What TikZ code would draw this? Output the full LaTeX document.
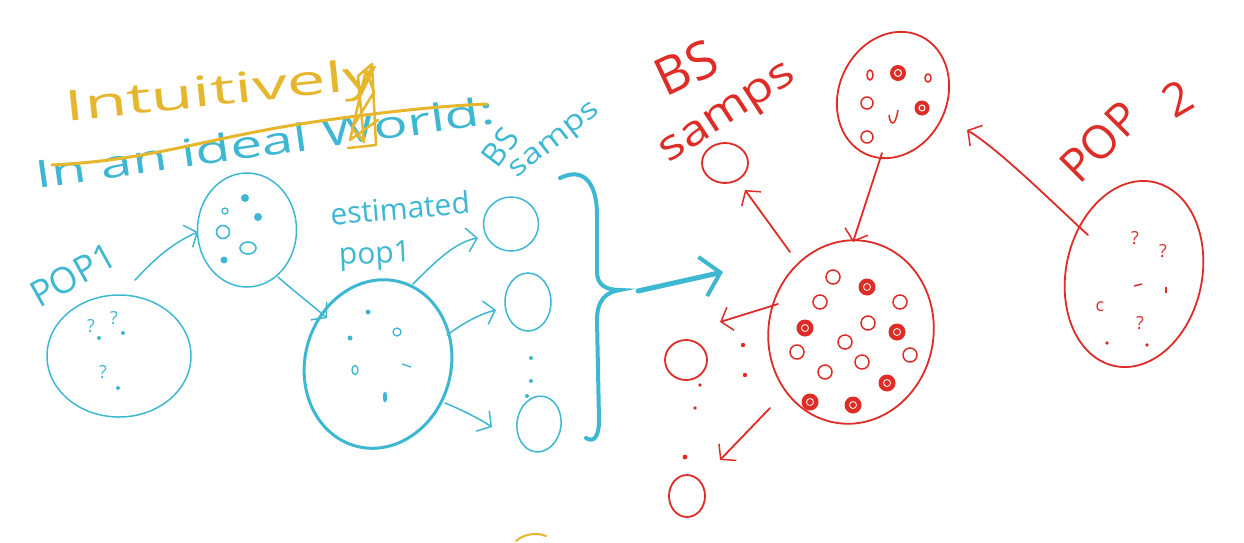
\documentclass[tikz,border=0pt]{standalone}
\usepackage{fontspec}
\usepackage{graphicx}
\setmainfont{Open Sans}
\usetikzlibrary{shapes.geometric,arrows.meta,calc}
\definecolor{hblue}{RGB}{62,184,210}
\definecolor{hred}{RGB}{222,44,38}
\definecolor{hyel}{RGB}{230,182,44}
\begin{document}
\begin{tikzpicture}[x=1pt,y=-1pt,
  blob/.style={draw,ellipse,inner sep=0pt,outer sep=0pt},
  bl/.style={draw=hblue,line width=1.5pt},
  rd/.style={draw=hred,line width=1.8pt},
  harr/.style={-{Straight Barb[length=10pt,width=24pt,line width=1.5pt]},line cap=round,line join=round},
  hand/.style={inner sep=0pt,font=\fontsize{#1}{#1}\selectfont},
  hand/.default=26,
  qm/.style={inner sep=0pt,font=\fontsize{18}{18}\selectfont},
]
\useasboundingbox[fill=white] (0,0) rectangle (1244,542);

% ---------------- blue part ----------------
\node[hand=38,text=hblue,rotate=8] (ideal) at (265,142) {\scalebox{1.5}[1]{In an ideal World:}};
\node[hand=42,text=hyel,rotate=6] (intu) at (222,94) {\scalebox{1.65}[1]{Intuitively}};
\draw[hyel,line width=3pt,line cap=round] (52,165) .. controls (150,160) and (200,140) .. (300,124) .. controls (380,112) and (440,106) .. (487,104);
\draw[hyel,line width=2.5pt,line join=round,line cap=round] (348,148) -- (376,145) -- (372,64) -- (358,76) -- (364,142) -- (352,128) -- (374,92) -- (366,70) -- (350,140) -- (378,120);

\node[hand=32,text=hblue,rotate=53] (bsa) at (500,147) {BS};
\node[hand=28,text=hblue,rotate=38] (bsb) at (556,142) {\scalebox{1.25}[1]{samps}};
\node[hand=36,text=hblue,rotate=29] (lp1) at (73,275) {POP1};
\node[hand=30,text=hblue,rotate=5] (lest1) at (400,208) {estimated};
\node[hand=30,text=hblue,rotate=3] (lest2) at (375,256) {pop1};

\node[blob,bl,minimum width=144,minimum height=122] (pop1) at (119,356) {};
\node[qm,text=hblue] (q1) at (91,326) {?};
\node[qm,text=hblue] (q2) at (114,318) {?};
\node[qm,text=hblue] (q3) at (103,372) {?};
\fill[hblue] (99,338) circle (2);
\fill[hblue] (123,333) circle (2);
\fill[hblue] (118,388) circle (2);

\node[blob,bl,minimum width=99,minimum height=114] (s1) at (247,230) {};
\fill[hblue] (245,198) circle (4);
\draw[hblue,line width=1.3pt] (225,211) circle (3);
\fill[hblue] (258,217) circle (4);
\draw[hblue,line width=1.6pt] (223,232) circle (6.5);
\draw[hblue,line width=1.6pt] (248,248) ellipse (8 and 6);
\fill[hblue] (224,260) circle (3.5);

\node[blob,bl,line width=3pt,minimum width=146,minimum height=170,rotate=-15] (est) at (378,364) {};
\fill[hblue] (368,312) circle (2.5);
\fill[hblue] (350,338) circle (2.5);
\draw[hblue,line width=1.3pt] (397,332) circle (4);
\draw[hblue,line width=1.3pt] (355,370) ellipse (3 and 4.5);
\draw[hblue,line width=1.3pt] (402,364) -- (411,367);
\fill[hblue] (385,397) ellipse (2.2 and 5.5);

\node[blob,bl,minimum width=55,minimum height=54] (bs1) at (511,224) {};
\node[blob,bl,minimum width=46,minimum height=58] (bs2) at (528,302) {};
\node[blob,bl,minimum width=44,minimum height=56,rotate=-8] (bs3) at (539,424) {};
\fill[hblue] (531,358) circle (2);
\fill[hblue] (531,381) circle (2);
\fill[hblue] (527,396) circle (2);

\draw[bl,harr] ($(pop1.center)+(16,-76)$) .. controls (152,262) and (170,244) .. ($(s1.center)+(-49,2)$);
\draw[bl,harr] ($(s1.center)+(31,47)$) .. controls (295,292) and (312,305) .. ($(est.center)+(-51,-46)$);
\draw[bl,harr] ($(est.center)+(35,-80)$) .. controls (435,262) and (455,242) .. ($(bs1.center)+(-33,14)$);
\draw[bl,harr] ($(est.center)+(69,-29)$) .. controls (465,322) and (480,314) .. ($(bs2.center)+(-32,8)$);
\draw[bl,harr] ($(est.center)+(67,39)$) .. controls (462,410) and (478,418) .. ($(bs3.center)+(-47,3)$);

% brace
\coordinate (btip) at (620,290);
\draw[hblue,line width=4pt,line cap=round] (560,178) .. controls (585,166) and (597,185) .. (597,215) -- (597,272) .. controls (597,285) and (606,290) .. (btip) .. controls (606,292) and (597,300) .. (597,320) -- (599,420) .. controls (599,440) and (592,442) .. (586,438);

% big arrow
\coordinate (bigs) at (638,291);
\node[blob,rd,minimum width=165,minimum height=184,rotate=-10] (b2) at (851,332) {};
\draw[hblue,line width=5pt,line cap=round,-{Straight Barb[length=18pt,width=40pt,line width=4pt]}] (bigs) -- ($(b2.center)+(-128,-60)$);

% ---------------- red part ----------------
\node[hand=52,text=hred,rotate=25] (rbsa) at (686,68) {BS};
\node[hand=42,text=hred,rotate=33] (rbsb) at (730,116) {\scalebox{1.2}[1]{samps}};
\node[hand=46,text=hred,rotate=45] (lp2a) at (1100,142) {POP};
\node[hand=46,text=hred,rotate=30] (lp2b) at (1178,98) {2};

\node[blob,rd,minimum width=46,minimum height=40] (r1) at (725,163) {};
\node[blob,rd,minimum width=42,minimum height=40] (r2) at (686,360) {};
\node[blob,rd,minimum width=36,minimum height=42] (r3) at (687,496) {};

\node[blob,rd,minimum width=108,minimum height=130,rotate=-25] (t2) at (893,95) {};
\draw[hred,line width=1.5pt] (870,75) ellipse (3 and 5);
\fill[hred] (898,73) circle (8); \draw[white,line width=1pt] (898,73) circle (3.5);
\draw[hred,line width=1.5pt] (928,78) ellipse (3 and 4);
\draw[hred,line width=1.5pt] (867,103) circle (6);
\fill[hred] (922,108) circle (7.5); \draw[white,line width=1pt] (922,108) circle (3);
\draw[hred,line width=1.5pt] (889,115) .. controls (890,125) and (895,128) .. (898,110);
\draw[hred,line width=1.5pt] (867,137) circle (6);

\foreach \p in {(833,277),(820,302),(900,302),(868,323),(845,342),(797,352),(910,355),(862,362),(825,372)}
  \draw[hred,line width=1.5pt] \p circle (7);
\foreach \p in {(867,287),(805,328),(897,332),(887,383),(810,402),(853,405)}
  {\fill[hred] \p circle (8.5); \draw[white,line width=0.8pt] \p circle (3.5);}

\node[blob,rd,minimum width=136,minimum height=188,rotate=-12] (p2) at (1134,274) {};
\node[qm,text=hred] (q4) at (1135,238) {?};
\node[qm,text=hred] (q5) at (1163,251) {?};
\node[qm,text=hred] (q6) at (1140,323) {?};
\node[qm,text=hred] (q7) at (1100,307) {c};
\draw[hred,line width=1.5pt] (1134,286) -- (1142,284);
\draw[hred,line width=1.5pt] (1166,287) -- (1166,293);
\fill[hred] (1107,343) circle (1.8);
\fill[hred] (1147,345) circle (1.8);

\fill[hred] (743,345) circle (2.2);
\fill[hred] (745,375) circle (2.2);
\fill[hred] (700,385) circle (1.8);
\fill[hred] (695,408) circle (1.8);
\fill[hred] (685,457) circle (2.4);

\draw[rd,harr] ($(b2.center)+(-61,-80)$) -- ($(r1.center)+(20,27)$);
\draw[rd,harr] ($(t2.center)+(-11,58)$) -- ($(b2.center)+(2,-90)$);
\draw[rd,harr] ($(p2.center)+(-46,-39)$) .. controls (1055,205) and (1000,150) .. ($(t2.center)+(74,35)$);
\draw[rd,harr] ($(b2.center)+(-73,-28)$) -- ($(r2.center)+(34,-38)$);
\draw[rd,harr] ($(b2.center)+(-81,76)$) -- ($(r3.center)+(33,-36)$);

% stray yellow mark
\draw[hyel,line width=2pt,line cap=round] (516,541) .. controls (524,534) and (536,532) .. (546,536);
\end{tikzpicture}
\end{document}
